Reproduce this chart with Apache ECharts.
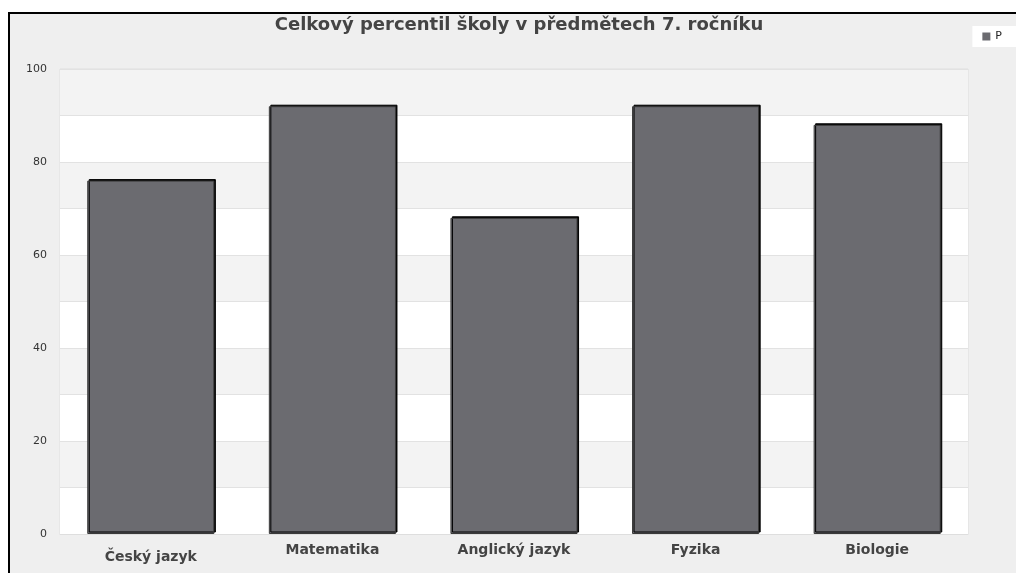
<!DOCTYPE html>
<html>
<head>
<meta charset="utf-8">
<script src="https://cdn.jsdelivr.net/npm/echarts@6/dist/echarts.min.js"></script>
<style>
  html, body { margin: 0; padding: 0; background: #fff; }
  #frame {
    position: absolute; left: 8px; top: 12px;
    width: 1006px; height: 559px;
    border-left: 2px solid #000; border-top: 2px solid #000;
    background: #efefef;
  }
  #chart { width: 1006px; height: 559px; }
</style>
</head>
<body>
<div id="frame"><div id="chart"></div></div>
<script>
const subjects = ['Český jazyk', 'Matematika', 'Anglický jazyk', 'Fyzika', 'Biologie']
const percentil = [76, 92, 68, 92, 88]
const seriesName = 'P'

let chart = echarts.init(document.getElementById('chart'))

const option = {
  backgroundColor: '#efefef',
  title: {
    text: 'Celkový percentil školy v předmětech 7. ročníku',
    left: 504,
    textAlign: 'center',
    top: 2,
    padding: [0, 5],
    textStyle: { fontFamily: 'DejaVu Sans', fontSize: 18, fontWeight: 'bold', color: '#444' }
  },
  legend: {
    right: 0,
    top: 12,
    backgroundColor: '#fff',
    padding: [5, 14, 5, 10],
    itemWidth: 8,
    itemHeight: 8,
    itemGap: 8,
    icon: 'rect',
    itemStyle: { borderWidth: 0, shadowColor: 'transparent', shadowOffsetX: 0, shadowOffsetY: 0 },
    textStyle: { fontFamily: 'DejaVu Sans', fontSize: 11, color: '#222' },
    data: [seriesName]
  },
  grid: {
    left: 50,
    right: 48,
    top: 55,
    bottom: 39,
    show: true,
    borderColor: '#dedede',
    borderWidth: 1,
    backgroundColor: 'transparent'
  },
  xAxis: {
    type: 'category',
    data: subjects.map((s, i) => i === 0 ? { value: s, textStyle: { padding: [7, 0, 0, 0] } } : s),
    axisTick: { show: false },
    axisLine: { show: true, lineStyle: { color: '#dedede' } },
    axisLabel: {
      margin: 9,
      fontFamily: 'DejaVu Sans', fontSize: 14, fontWeight: 'bold', color: '#444'
    }
  },
  yAxis: {
    type: 'value',
    min: 0,
    max: 100,
    interval: 10,
    axisLine: { show: false },
    axisTick: { show: false },
    axisLabel: {
      margin: 13,
      fontFamily: 'DejaVu Sans', fontSize: 11, color: '#333',
      formatter: v => (v % 20 === 0 ? String(v) : '')
    },
    splitLine: { show: true, lineStyle: { color: '#e2e2e2', width: 1 } },
    splitArea: { show: true, areaStyle: { color: ['#ffffff', '#f3f3f3'] } }
  },
  series: [
    {
      name: seriesName,
      type: 'bar',
      data: percentil,
      barWidth: '70%',
      itemStyle: {
        color: '#6b6b70',
        borderColor: '#3a3a3a',
        borderWidth: 1,
        shadowColor: '#000',
        shadowOffsetX: 1.5,
        shadowOffsetY: -1.5,
        shadowBlur: 0
      }
    }
  ]
}

chart.setOption(option)
</script>
</body>
</html>
